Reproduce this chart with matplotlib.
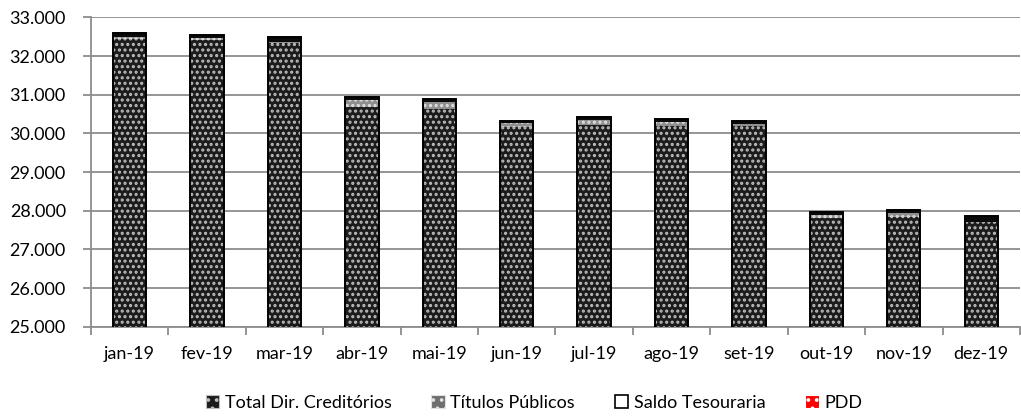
import matplotlib
matplotlib.use("Agg")
import matplotlib.pyplot as plt
from matplotlib.patches import Patch
from matplotlib.ticker import FuncFormatter, FixedLocator
import numpy as np

# values (R$ mil)
months = ["jan-19", "fev-19", "mar-19", "abr-19", "mai-19", "jun-19",
          "jul-19", "ago-19", "set-19", "out-19", "nov-19", "dez-19"]
dir_cred = [32444, 32418, 32348, 30677, 30633, 30170,
            30219, 30193, 30193, 27805, 27847, 27717]
titulos = [60, 44, 10, 190, 173, 90, 130, 95, 45, 80, 85, 0]
saldo = [90, 85, 147, 85, 95, 70, 85, 95, 95, 80, 80, 150]
pdd = [0] * 12

y_ticks = [25000, 26000, 27000, 28000, 29000, 30000, 31000, 32000, 33000]

GRID = "#8c8c8c"
plt.rcParams["font.family"] = ["Lato", "DejaVu Sans"]
plt.rcParams["hatch.linewidth"] = 1.5

fig = plt.figure(figsize=(10.21, 4.16), dpi=100)
ax = fig.add_axes([0.089, 0.2147, 0.91, 0.7433])

x = np.arange(len(months))
w = 0.43
dc = np.array(dir_cred)
tp = np.array(titulos)
st = np.array(saldo)

# Total Dir. Creditórios: dark fill + light dot grid
ax.bar(x, dc, w, color="#1c1c1c", linewidth=0, zorder=3)
ax.bar(x, dc, w, facecolor="none", edgecolor="#bdbdbd", hatch="...",
       linewidth=0, zorder=3)
# Títulos Públicos: grey band with dots
ax.bar(x, tp, w, bottom=dc, color="#8f8f8f", linewidth=0, zorder=3)
ax.bar(x, tp, w, bottom=dc, facecolor="none", edgecolor="#e0e0e0",
       hatch="...", linewidth=0, zorder=3)
# Saldo Tesouraria: thin band, shows as black at this scale
ax.bar(x, st, w, bottom=dc + tp, color="#0a0a0a", linewidth=0, zorder=3)
# PDD (not visible on this scale)
ax.bar(x, pdd, w, color="#ff0000", linewidth=0, zorder=3)
# outline round each stack
ax.bar(x, dc + tp + st, w, facecolor="none", edgecolor="black",
       linewidth=1.4, zorder=4)

ax.set_xlim(-0.5, len(months) - 0.5)
ax.set_ylim(25000, 33000)
ax.yaxis.set_major_locator(FixedLocator(y_ticks))
ax.yaxis.set_major_formatter(FuncFormatter(lambda v, _: f"{v:,.0f}".replace(",", ".")))
ax.grid(axis="y", color=GRID, linewidth=1.3, zorder=0)

ax.set_xticks(x)
ax.set_xticklabels(months)
ax.set_xticks(np.arange(len(months) + 1) - 0.5, minor=True)
ax.tick_params(axis="x", which="major", length=0, pad=14, labelsize=13)
ax.tick_params(axis="x", which="minor", length=6, color=GRID, width=1.3)
ax.tick_params(axis="y", length=6, color=GRID, width=1.3, pad=12, labelsize=13)

for side in ("top", "right"):
    ax.spines[side].set_visible(False)
for side in ("left", "bottom"):
    ax.spines[side].set_color(GRID)
    ax.spines[side].set_linewidth(1.3)

handles = [
    Patch(facecolor="#1c1c1c", edgecolor="#bdbdbd", hatch="..", linewidth=0.8),
    Patch(facecolor="#6e6e6e", edgecolor="#e0e0e0", hatch="..", linewidth=0.8),
    Patch(facecolor="white", edgecolor="black", linewidth=1.2),
    Patch(facecolor="#ff0000", edgecolor="white", hatch="..", linewidth=0.8),
]
labels = ["Total Dir. Creditórios", "Títulos Públicos", "Saldo Tesouraria", "PDD"]
fig.legend(handles, labels, loc="center", bbox_to_anchor=(0.523, 0.032),
           ncol=4, frameon=False, fontsize=13, handlelength=0.75,
           handleheight=0.8, handletextpad=0.3, columnspacing=2.2)

fig.savefig("out.png", dpi=100)
